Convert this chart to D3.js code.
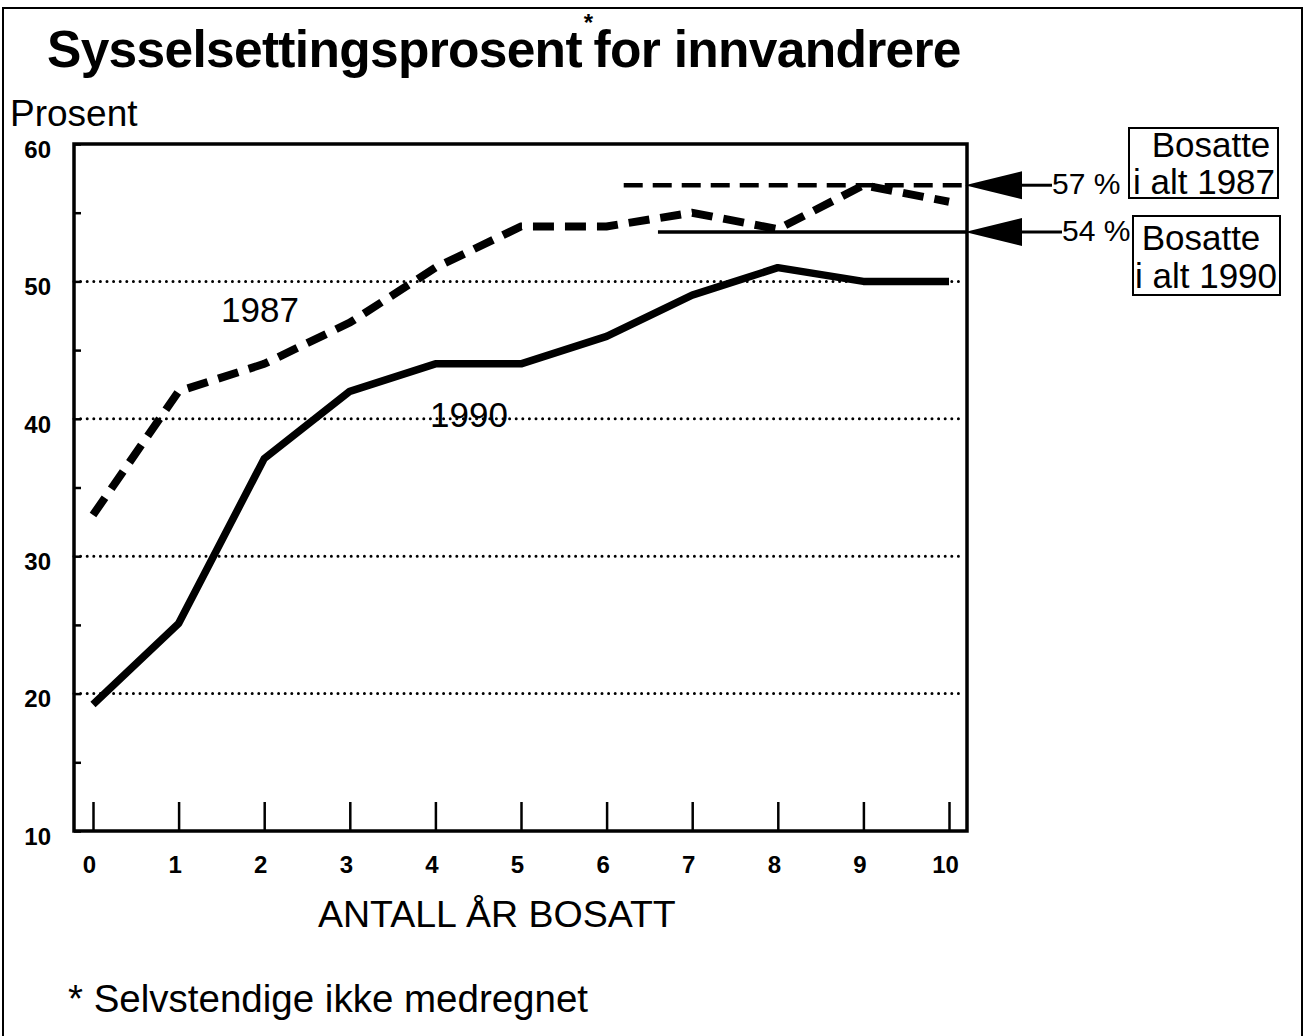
<!DOCTYPE html>
<html>
<head>
<meta charset="utf-8">
<script src="https://cdn.jsdelivr.net/npm/d3@7"></script>
<style>
  body { margin: 0; background: #fff; }
  text { font-family: "Liberation Sans", Arial, Helvetica, sans-serif; fill: #000; }
</style>
</head>
<body>
<div id="chart"></div>
<script>
// data
const years = [0, 1, 2, 3, 4, 5, 6, 7, 8, 9, 10];
const values1987 = [33, 42, 44, 47, 51, 54, 54, 55, 53.8, 57, 55.8];
const values1990 = [19.2, 25.1, 37.1, 42, 44, 44, 46, 49, 51, 50, 50];
const yTicks = [10, 15, 20, 25, 30, 35, 40, 45, 50, 55, 60];
const gridValues = [20, 30, 40, 50];
// "Bosatte i alt" reference levels: [value, start year, label]
const refTotal1987 = [57, 6.2, "57 %"];
const refTotal1990 = [53.6, 6.6, "54 %"];

const width = 1309, height = 1036;
const plotLeft = 74, plotRight = 967, plotTop = 144, plotBottom = 831;

const svg = d3.select("#chart").append("svg")
    .attr("width", width)
    .attr("height", height);

// outer frame (open at the bottom)
svg.append("path")
    .attr("d", `M3,${height} L3,8 L1302,8 L1302,${height}`)
    .attr("fill", "none")
    .attr("stroke", "#000")
    .attr("stroke-width", 2);

const x = d3.scaleLinear().domain([0, 10]).range([93, 949]);
const y = d3.scaleLinear().domain([10, 60]).range([plotBottom, plotTop]);

// title with the superscript star
const title = svg.append("text")
    .attr("x", 47).attr("y", 67)
    .style("font-size", "51.5px").style("font-weight", "bold")
    .style("letter-spacing", "-0.7px");
title.append("tspan").text("Sysselsettingsprosent");
title.append("tspan").attr("dx", 2).attr("dy", -36).style("font-size", "24px").text("*");
title.append("tspan").attr("dx", 1).attr("dy", 36).text("for innvandrere");

svg.append("text")
    .attr("x", 10).attr("y", 126)
    .style("font-size", "37px")
    .text("Prosent");

// dotted gridlines
svg.append("g").selectAll("line")
    .data(gridValues)
    .enter().append("line")
    .attr("x1", plotLeft).attr("x2", 960)
    .attr("y1", d => y(d)).attr("y2", d => y(d))
    .attr("stroke", "#000")
    .attr("stroke-width", 3)
    .attr("stroke-linecap", "round")
    .attr("stroke-dasharray", "0 6.6");

// plot frame
svg.append("rect")
    .attr("x", plotLeft).attr("y", plotTop)
    .attr("width", plotRight - plotLeft).attr("height", plotBottom - plotTop)
    .attr("fill", "none")
    .attr("stroke", "#000")
    .attr("stroke-width", 3.5);

// x axis: long ticks pointing up
const xAxis = svg.append("g")
    .attr("transform", `translate(0,${plotBottom})`)
    .call(d3.axisBottom(x).tickValues(years).tickSize(-29).tickPadding(25).tickFormat(d3.format("d")));
xAxis.select(".domain").remove();
xAxis.selectAll(".tick line").attr("stroke-width", 2.5);
xAxis.selectAll(".tick text")
    .attr("dx", -4)
    .style("font-size", "24px").style("font-weight", "bold")
    .style("font-family", "'Liberation Sans', Arial, sans-serif");

// y axis: short inward ticks every 5
const yAxis = svg.append("g")
    .attr("transform", `translate(${plotLeft},0)`)
    .call(d3.axisLeft(y).tickValues(yTicks).tickSize(-7).tickPadding(23)
        .tickFormat(d => d % 10 === 0 ? d : ""));
yAxis.select(".domain").remove();
yAxis.selectAll(".tick line").attr("stroke-width", 2.5);
yAxis.selectAll(".tick text")
    .attr("dy", "0.55em")
    .style("font-size", "24px").style("font-weight", "bold")
    .style("font-family", "'Liberation Sans', Arial, sans-serif");

svg.append("text")
    .attr("x", 318).attr("y", 927)
    .style("font-size", "37.5px")
    .text("ANTALL ÅR BOSATT");

// reference levels inside the plot
svg.append("line")
    .attr("x1", x(refTotal1987[1])).attr("x2", plotRight)
    .attr("y1", y(refTotal1987[0])).attr("y2", y(refTotal1987[0]))
    .attr("stroke", "#000").attr("stroke-width", 4.5)
    .attr("stroke-dasharray", "19,10");

svg.append("line")
    .attr("x1", x(refTotal1990[1])).attr("x2", plotRight)
    .attr("y1", y(refTotal1990[0])).attr("y2", y(refTotal1990[0]))
    .attr("stroke", "#000").attr("stroke-width", 3.5);

// the two series
const line = d3.line()
    .x((d, i) => x(years[i]))
    .y(d => y(d));

svg.append("path")
    .datum(values1987)
    .attr("d", line)
    .attr("fill", "none")
    .attr("stroke", "#000")
    .attr("stroke-width", 8)
    .attr("stroke-dasharray", "21,11");

svg.append("path")
    .datum(values1990)
    .attr("d", line)
    .attr("fill", "none")
    .attr("stroke", "#000")
    .attr("stroke-width", 7.5)
    .attr("stroke-linejoin", "round");

svg.append("text")
    .attr("x", 221).attr("y", 322)
    .style("font-size", "35px")
    .text("1987");

svg.append("text")
    .attr("x", 430).attr("y", 427)
    .style("font-size", "35px")
    .text("1990");

// arrows pointing at the reference levels
function drawArrow(ref, lineEnd) {
    const yy = y(ref[0]);
    svg.append("path")
        .attr("d", `M${plotRight - 2},${yy} L1022,${yy - 14} L1022,${yy + 14} Z`)
        .attr("fill", "#000");
    svg.append("line")
        .attr("x1", 1020).attr("x2", lineEnd)
        .attr("y1", yy).attr("y2", yy)
        .attr("stroke", "#000").attr("stroke-width", 3);
    svg.append("text")
        .attr("x", lineEnd).attr("y", yy + 9)
        .style("font-size", "30px")
        .text(ref[2]);
}
drawArrow(refTotal1987, 1052);
drawArrow(refTotal1990, 1062);

// label boxes
function drawBox(x0, y0, x1, y1, lines) {
    svg.append("rect")
        .attr("x", x0).attr("y", y0)
        .attr("width", x1 - x0).attr("height", y1 - y0)
        .attr("fill", "#fff")
        .attr("stroke", "#000").attr("stroke-width", 2);
    svg.selectAll(null)
        .data(lines)
        .enter().append("text")
        .attr("x", d => d[0]).attr("y", d => d[1])
        .attr("text-anchor", d => d[2])
        .style("font-size", "35px")
        .text(d => d[3]);
}
drawBox(1129, 128, 1278, 198, [[1211, 157, "middle", "Bosatte"], [1133, 194, "start", "i alt 1987"]]);
drawBox(1133, 216, 1280, 295, [[1201, 250, "middle", "Bosatte"], [1135, 288, "start", "i alt 1990"]]);

svg.append("text")
    .attr("x", 68).attr("y", 1012)
    .style("font-size", "38.5px")
    .text("* Selvstendige ikke medregnet");
</script>
</body>
</html>
